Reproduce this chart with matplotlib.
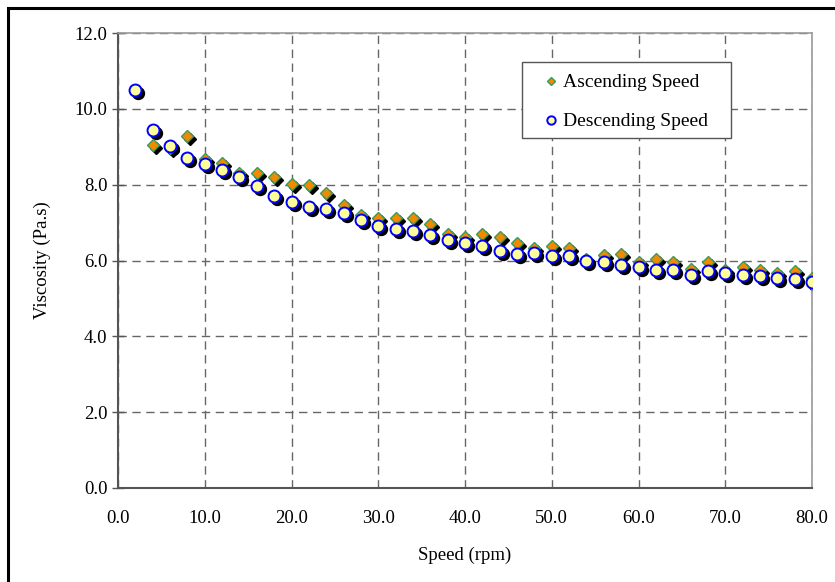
import matplotlib
matplotlib.use("Agg")
import matplotlib.pyplot as plt
import matplotlib.transforms as mtransforms
from matplotlib.patches import Rectangle

# --- dane ---
speed = [2, 4, 6, 8, 10, 12, 14, 16, 18, 20, 22, 24, 26, 28, 30, 32, 34, 36, 38, 40,
         42, 44, 46, 48, 50, 52, 54, 56, 58, 60, 62, 64, 66, 68, 70, 72, 74, 76, 78, 80]
visc_up = [10.50, 9.05, 8.97, 9.29, 8.68, 8.58, 8.32, 8.32, 8.19, 8.03,
           8.00, 7.79, 7.47, 7.21, 7.11, 7.11, 7.13, 6.95, 6.71, 6.62,
           6.71, 6.61, 6.45, 6.32, 6.39, 6.34, 6.03, 6.15, 6.18, 5.95,
           6.05, 5.97, 5.78, 5.97, 5.74, 5.82, 5.76, 5.66, 5.71, 5.55]
visc_down = [10.50, 9.45, 9.03, 8.71, 8.55, 8.39, 8.21, 7.97, 7.71, 7.53,
             7.42, 7.37, 7.26, 7.08, 6.92, 6.82, 6.79, 6.66, 6.53, 6.45,
             6.37, 6.26, 6.18, 6.20, 6.13, 6.11, 6.00, 5.95, 5.88, 5.82,
             5.76, 5.76, 5.63, 5.71, 5.66, 5.63, 5.58, 5.53, 5.50, 5.42]

plt.rcParams["font.family"] = ["Liberation Serif", "DejaVu Serif"]
FS = 13.5

fig = plt.figure(figsize=(8.35, 5.82), dpi=100)
AX_L, AX_R, AX_T, AX_B = 118, 812, 33, 488
ax = fig.add_axes([AX_L / 835, 1 - AX_B / 582, (AX_R - AX_L) / 835, (AX_B - AX_T) / 582])

def px2ax(x, y):
    """piksele rysunku -> współrzędne osi"""
    return (x - AX_L) / (AX_R - AX_L), (AX_B - y) / (AX_B - AX_T)

# ramka wokół całego rysunku (widoczna tylko z lewej i u góry)
fig.patches.append(Rectangle((8 / 835, -0.05), 1.2, 1 - 8 / 582 + 0.05,
                             transform=fig.transFigure, fill=False,
                             edgecolor="black", linewidth=2.2, zorder=10))

# cienie markerów przesunięte w prawo-dół
shadow = ax.transData + mtransforms.ScaledTranslation(3 / 100, -3 / 100, fig.dpi_scale_trans)
ax.plot(speed, visc_up, linestyle="none", marker="D", markersize=6.4,
        color="black", transform=shadow, zorder=2)
ax.plot(speed, visc_down, linestyle="none", marker="o", markersize=8.6,
        color="black", transform=shadow, zorder=2)

ax.plot(speed, visc_up, linestyle="none", marker="D", markersize=6.4,
        markerfacecolor="#f08a00", markeredgecolor="#3c9a5a", markeredgewidth=1.0,
        zorder=3, label="Ascending Speed")
ax.plot(speed, visc_down, linestyle="none", marker="o", markersize=8.6,
        markerfacecolor="#ffff99", markeredgecolor="#0000ff", markeredgewidth=1.4,
        zorder=4, label="Descending Speed")

ax.set_xlim(0, 80)
ax.set_ylim(0, 12)
ax.set_xticks(range(0, 81, 10))
ax.set_yticks(range(0, 13, 2))
ax.set_xticklabels([f"{v:.1f}" for v in range(0, 81, 10)], fontsize=FS)
ax.set_yticklabels([f"{v:.1f}" for v in range(0, 13, 2)], fontsize=FS)
ax.tick_params(axis="y", direction="inout", length=9, width=1, color="#555555", pad=3)
ax.tick_params(axis="x", direction="out", length=0, pad=16)

ax.grid(True, linestyle=(0, (6, 4)), color="#666666", linewidth=1.0, zorder=0)
ax.set_axisbelow(True)
for side in ("top", "right"):
    ax.spines[side].set_color("#999999")
    ax.spines[side].set_linewidth(1.2)
for side in ("left", "bottom"):
    ax.spines[side].set_color("#555555")
    ax.spines[side].set_linewidth(1.5)

ax.set_xlabel("Speed (rpm)", fontsize=FS, labelpad=14)
ax.set_ylabel("Viscosity (Pa.s)", fontsize=FS, labelpad=17)

# legenda: ramka rysowana osobno, żeby dopasować marginesy
x0, y0 = px2ax(522, 138)
x1, y1 = px2ax(731, 62)
ax.add_patch(Rectangle((x0, y0), x1 - x0, y1 - y0, transform=ax.transAxes,
                       facecolor="white", edgecolor="#555555", linewidth=1.0, zorder=5))
leg = ax.legend(loc="upper left", bbox_to_anchor=px2ax(533, 65),
                fontsize=14, frameon=False, handletextpad=0.1,
                borderaxespad=0, borderpad=0.45, labelspacing=1.1,
                markerscale=0.7, handlelength=1.0)
leg.set_zorder(6)

fig.savefig("out.png", dpi=100)
